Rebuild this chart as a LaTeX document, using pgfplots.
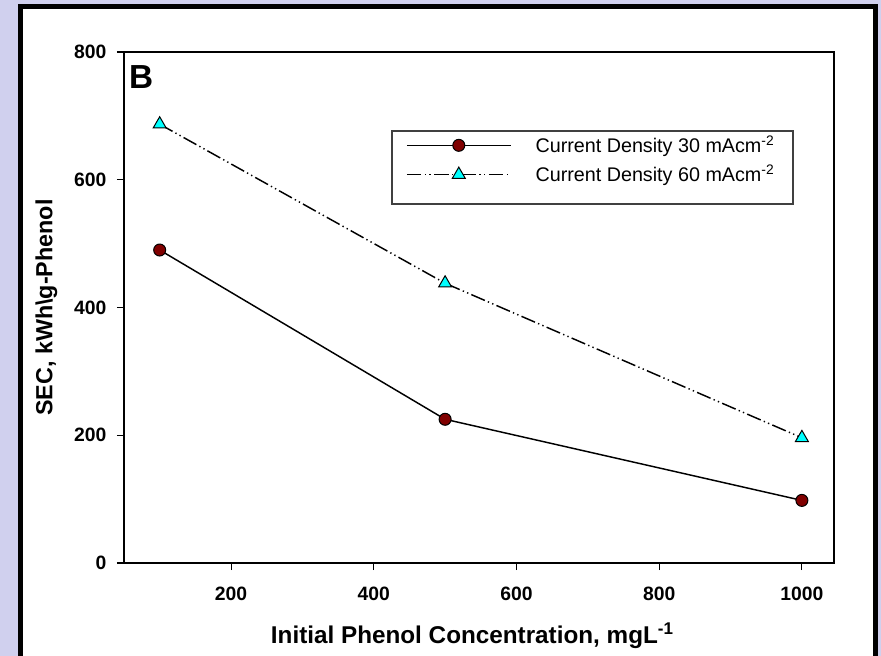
\documentclass[border=0pt]{standalone}
\usepackage{fontspec}
\setmainfont{Liberation Sans}
\usepackage{pgfplots}
\pgfplotsset{compat=1.18}
\usetikzlibrary{backgrounds}
\definecolor{lavbg}{RGB}{208,208,238}
\definecolor{darkred}{RGB}{128,0,0}
\definecolor{tricyan}{RGB}{0,255,255}
\begin{document}
\begin{tikzpicture}
  \begin{axis}[
      scale only axis, width=532.5pt, height=383.25pt,
      xmin=50, xmax=1045, ymin=0, ymax=800,
      xtick={200,400,600,800,1000},
      ytick={0,200,400,600,800},
      tick pos=left, tick align=outside,
      major tick length=5.25pt,
      axis line style={line width=1pt},
      tick style={black, line width=0.8pt},
      /pgf/number format/assume math mode=true,
      /pgf/number format/set thousands separator={},
      scaled ticks=false,
      tick label style={font=\bfseries\fontsize{14.5}{16}\selectfont},
      yticklabel style={xshift=-4.5pt},
      xticklabel style={yshift=-9pt},
      xlabel={Initial Phenol Concentration, mgL\textsuperscript{-1}},
      ylabel={SEC, kWh\textbackslash g-Phenol},
      xlabel style={font=\bfseries\fontsize{18.2}{22}\selectfont,
        at={(axis description cs:0.5,0)}, anchor=base, yshift=-60pt, xshift=-5pt},
      ylabel style={font=\bfseries\fontsize{17.5}{21}\selectfont,
        at={(axis description cs:-0.101,0.5)}, anchor=base},
      legend cell align=left,
      legend image code/.code={
        \draw[mark repeat=2,mark phase=2] plot coordinates {(0pt,0pt) (39pt,0pt) (78pt,0pt)};
      },
      legend style={at={(rel axis cs:0.380,0.857)}, anchor=north west,
        draw=none, fill=none,
        font=\fontsize{14.8}{17}\selectfont,
        inner xsep=9pt, inner ysep=6pt, row sep=4pt,
        /tikz/every odd column/.append style={column sep=16pt}},
    ]
    % legend frame
    \draw[black!75, line width=1pt]
      (rel axis cs:0.3775,0.7025) rectangle (rel axis cs:0.9423,0.8454);
    \addplot[black, line width=1.1pt, mark=*, mark size=4.5pt,
      mark options={solid, fill=darkred, draw=black, line width=0.75pt}]
      coordinates {(100,490) (500,225) (1000,98)};
    \addlegendentry{Current Density 30 mAcm\textsuperscript{-2}}
    \addplot[black, line width=1.1pt,
      dash pattern=on 11pt off 2.5pt on 1pt off 2.5pt on 1pt off 2.5pt,
      mark=triangle*, mark size=5.6pt,
      mark options={solid, fill=tricyan, draw=black, line width=0.75pt}]
      coordinates {(100,687) (500,438) (1000,196)};
    \addlegendentry{Current Density 60 mAcm\textsuperscript{-2}}
    \node[anchor=base west, inner sep=0pt, font=\bfseries\fontsize{25}{30}\selectfont]
      at (rel axis cs:0.007,0.928) {B};
    \coordinate (O) at (rel axis cs:0,0);
  \end{axis}
  % page background and framed white panel, placed from the axis corner (124px, 93px)
  \begin{scope}[on background layer, x=0.75pt, y=0.75pt, shift={(O)}]
    \begin{scope}[shift={(-124,-93)}]
      \fill[lavbg] (0,0) rectangle (881,656);
      \fill[white] (20,0) rectangle (875,649);
      \draw[line width=3.75pt] (20.5,0) -- (20.5,649.5) -- (875,649.5) -- (875,0);
      \pgfresetboundingbox
      \useasboundingbox (0,0) rectangle (881,656);
    \end{scope}
  \end{scope}
\end{tikzpicture}
\end{document}
